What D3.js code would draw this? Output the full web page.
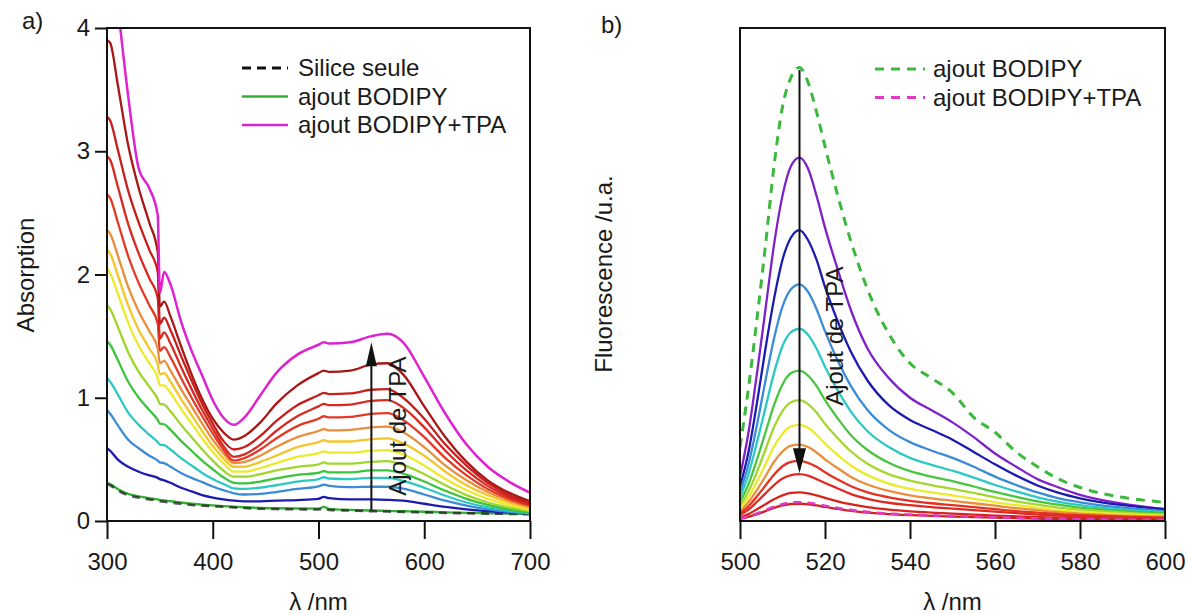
<!DOCTYPE html>
<html><head><meta charset="utf-8">
<script src="https://cdn.jsdelivr.net/npm/d3@7"></script>
<style>
body{margin:0;background:#fff}
svg{display:block}
text{font-family:"Liberation Sans",Arial,sans-serif;fill:#1a1a1a}
</style>
</head><body>
<svg id="chart" width="1187" height="614"></svg>
<script>
// ---------------- Panel a : absorption ----------------
const wlA = [300,303,310,320,330,340,348,350,354,360,370,380,390,400,410,420,430,445,460,480,500,505,510,530,550,565,580,600,620,640,660,680,700];
const siliceA  = [0.30,0.29,0.25,0.21,0.19,0.175,0.165,0.16,0.157,0.15,0.14,0.13,0.125,0.12,0.115,0.11,0.105,0.10,0.097,0.095,0.093,0.10,0.09,0.085,0.08,0.077,0.074,0.07,0.066,0.063,0.06,0.058,0.055];
const bodipyA  = [0.31,0.30,0.26,0.22,0.20,0.185,0.175,0.17,0.167,0.16,0.15,0.14,0.133,0.127,0.121,0.116,0.111,0.106,0.103,0.101,0.10,0.115,0.098,0.09,0.085,0.082,0.079,0.075,0.07,0.066,0.063,0.06,0.057];
const tpaA1  = [0.59,0.57,0.50,0.44,0.40,0.37,0.35,0.34,0.33,0.31,0.27,0.24,0.21,0.19,0.175,0.165,0.16,0.16,0.165,0.17,0.18,0.195,0.185,0.175,0.175,0.172,0.165,0.14,0.115,0.095,0.08,0.07,0.06];
const tpaA2  = [0.90,0.87,0.78,0.66,0.59,0.53,0.49,0.475,0.47,0.44,0.39,0.35,0.315,0.28,0.25,0.225,0.215,0.22,0.235,0.26,0.28,0.295,0.285,0.275,0.278,0.278,0.262,0.215,0.165,0.125,0.095,0.075,0.06];
const tpaA3  = [1.16,1.13,1.03,0.88,0.78,0.70,0.64,0.62,0.615,0.58,0.51,0.45,0.39,0.34,0.30,0.265,0.26,0.27,0.29,0.32,0.34,0.355,0.345,0.34,0.35,0.35,0.325,0.27,0.205,0.15,0.11,0.085,0.065];
const tpaA4  = [1.46,1.43,1.31,1.13,1.00,0.90,0.82,0.79,0.785,0.74,0.65,0.57,0.49,0.42,0.355,0.31,0.305,0.32,0.345,0.375,0.39,0.405,0.395,0.395,0.41,0.41,0.385,0.32,0.245,0.18,0.13,0.095,0.07];
const tpaA5  = [1.75,1.72,1.58,1.37,1.21,1.09,0.99,0.95,0.945,0.89,0.78,0.68,0.58,0.49,0.41,0.36,0.36,0.38,0.41,0.44,0.46,0.475,0.465,0.465,0.48,0.485,0.455,0.38,0.29,0.21,0.15,0.11,0.08];
const tpaA6  = [2.05,2.01,1.85,1.61,1.42,1.28,1.16,1.10,1.10,1.04,0.91,0.79,0.67,0.56,0.47,0.40,0.40,0.43,0.47,0.52,0.55,0.565,0.555,0.555,0.57,0.575,0.54,0.45,0.34,0.25,0.18,0.13,0.09];
const tpaA7  = [2.20,2.17,2.00,1.75,1.55,1.40,1.27,1.19,1.20,1.13,0.99,0.86,0.73,0.61,0.51,0.44,0.44,0.48,0.53,0.60,0.64,0.655,0.645,0.645,0.665,0.67,0.63,0.53,0.40,0.29,0.21,0.15,0.10];
const tpaA8  = [2.36,2.33,2.16,1.90,1.70,1.54,1.40,1.28,1.30,1.22,1.07,0.93,0.79,0.66,0.55,0.47,0.48,0.53,0.60,0.68,0.73,0.745,0.735,0.74,0.76,0.765,0.72,0.60,0.45,0.33,0.235,0.165,0.115];
const tpaA9  = [2.65,2.62,2.43,2.15,1.93,1.75,1.60,1.38,1.41,1.33,1.16,1.00,0.85,0.71,0.58,0.49,0.51,0.58,0.67,0.77,0.83,0.85,0.84,0.845,0.87,0.875,0.82,0.68,0.51,0.37,0.26,0.18,0.125];
const tpaA10 = [2.96,2.93,2.72,2.41,2.17,1.97,1.81,1.48,1.53,1.44,1.25,1.07,0.90,0.75,0.61,0.52,0.54,0.62,0.73,0.85,0.93,0.95,0.94,0.945,0.975,0.98,0.92,0.76,0.57,0.41,0.285,0.195,0.135];
const tpaA11 = [3.28,3.25,3.02,2.68,2.42,2.20,2.02,1.60,1.65,1.55,1.34,1.14,0.95,0.79,0.65,0.58,0.60,0.69,0.81,0.94,1.02,1.04,1.03,1.035,1.065,1.07,1.00,0.83,0.62,0.45,0.31,0.21,0.145];
const tpaA12 = [3.90,3.88,3.55,3.05,2.70,2.42,2.18,1.74,1.78,1.66,1.42,1.19,0.99,0.83,0.72,0.66,0.69,0.80,0.95,1.10,1.20,1.22,1.21,1.22,1.27,1.28,1.19,0.93,0.68,0.48,0.33,0.23,0.16];
const bodipyTpaA = [4.9,4.75,4.2,3.45,2.86,2.70,2.48,1.85,2.02,1.92,1.62,1.38,1.18,0.98,0.84,0.78,0.84,1.02,1.20,1.35,1.43,1.45,1.44,1.45,1.50,1.52,1.45,1.17,0.87,0.62,0.44,0.32,0.23];
const tpaSeriesA = [tpaA1,tpaA2,tpaA3,tpaA4,tpaA5,tpaA6,tpaA7,tpaA8,tpaA9,tpaA10,tpaA11,tpaA12];
const tpaColorsA = ["#1b1bb0","#3b8bd6","#2cc9c4","#3cc43c","#9fd62a","#ecea2a","#f3c62a","#ea8e3a","#e33a28","#d62a22","#c61f1c","#a81616"];
const xTicksA = [300,400,500,600,700];
const yTicksA = [0,1,2,3,4];
const legendA = ["Silice seule","ajout BODIPY","ajout BODIPY+TPA"];

// ---------------- Panel b : fluorescence ----------------
const wlB = [500,502,504,506,508,510,512,514,516,518,520,523,526,530,535,540,545,550,555,560,565,570,575,580,590,600];
const bodipyB    = [15,27,41,56,72,84,90,92,89,83,76,66,57,47,38,32,29,26,21,18,14,11,8.5,6.8,4.8,3.8];
const bodipyTpaB = [0.5,0.95,1.55,2.2,2.9,3.4,3.75,3.8,3.7,3.45,3.1,2.65,2.25,1.85,1.5,1.3,1.15,1.0,0.88,0.75,0.63,0.53,0.45,0.38,0.28,0.22];
const tpaB1  = [9,18,30,43,56,66,72,73.7,71.5,66,59.5,51,43,35,29,25,22.5,20,17,13.7,11,8.5,6.8,5.3,3.5,2.4];
const tpaB2  = [7,14,24,35,45,53,57.5,59,57,53,47.5,40.5,34.5,28.5,23.5,20.5,18.5,16.5,14,11.5,9.2,7.2,5.7,4.6,3.2,2.4];
const tpaB3  = [5.8,11.5,19.5,28.5,37,43.5,47,48,46.5,43,38.5,32.5,27.5,22.5,18.5,16,14.3,12.8,11,9,7.3,5.8,4.6,3.8,2.7,2.0];
const tpaB4  = [4.8,9.5,16,23,30,35.5,38.3,39,37.8,35,31.3,26.5,22.3,18.2,15,12.8,11.4,10.2,8.8,7.3,6,4.8,3.9,3.2,2.3,1.8];
const tpaB5  = [3.8,7.5,12.5,18,23.5,27.7,30,30.5,29.5,27.4,24.5,20.8,17.5,14.4,11.8,10.1,9,8.1,7,5.9,4.9,4.0,3.3,2.7,2.0,1.6];
const tpaB6  = [3.0,6.0,10,14.5,19,22.3,24.1,24.5,23.7,22,19.7,16.8,14.2,11.6,9.5,8.2,7.3,6.5,5.7,4.8,4.0,3.3,2.7,2.3,1.7,1.3];
const tpaB7  = [2.4,4.8,8,11.5,15.1,17.7,19.2,19.5,18.9,17.5,15.7,13.4,11.3,9.3,7.6,6.5,5.8,5.2,4.5,3.8,3.2,2.7,2.2,1.9,1.4,1.1];
const tpaB8  = [1.9,3.8,6.3,9.1,12,14.1,15.3,15.5,15,13.9,12.5,10.7,9,7.4,6.1,5.2,4.6,4.1,3.6,3.1,2.6,2.2,1.8,1.5,1.1,0.9];
const tpaB9  = [1.5,3,5,7.2,9.4,11.1,12,12.2,11.8,11,9.9,8.4,7.1,5.8,4.8,4.1,3.6,3.2,2.8,2.4,2.0,1.7,1.4,1.2,0.9,0.7];
const tpaB10 = [1.2,2.3,3.9,5.6,7.3,8.6,9.3,9.5,9.2,8.5,7.7,6.6,5.5,4.5,3.7,3.2,2.8,2.5,2.2,1.9,1.6,1.3,1.1,0.95,0.7,0.55];
const tpaB11 = [0.7,1.4,2.4,3.4,4.4,5.2,5.7,5.8,5.6,5.2,4.7,4.0,3.4,2.8,2.3,1.95,1.7,1.5,1.3,1.1,0.95,0.8,0.68,0.58,0.42,0.33];
const tpaB12 = [0.45,0.85,1.4,2.0,2.65,3.15,3.45,3.5,3.4,3.15,2.85,2.45,2.05,1.7,1.4,1.2,1.05,0.9,0.8,0.68,0.58,0.48,0.4,0.35,0.25,0.2];
const tpaSeriesB = [tpaB1,tpaB2,tpaB3,tpaB4,tpaB5,tpaB6,tpaB7,tpaB8,tpaB9,tpaB10,tpaB11,tpaB12];
const tpaColorsB = ["#7d22c8","#1b1bb0","#3b8bd6","#2cc9c4","#48c640","#a5d62c","#ecea2a","#ea8e3a","#e3321f","#df2a22","#d8231d","#d22020"];
const xTicksB = [500,520,540,560,580,600];
const legendB = ["ajout BODIPY","ajout BODIPY+TPA"];

// ---------------- drawing ----------------
const svg = d3.select("#chart");
const FS = 24;
const frameA = {l:107, r:530, t:28, b:521};
const frameB = {l:740, r:1165, t:28, b:521};

const xA = d3.scaleLinear().domain([300,700]).range([frameA.l, frameA.r]);
const yA = d3.scaleLinear().domain([0,4]).range([frameA.b, frameA.t]);
const xB = d3.scaleLinear().domain([500,600]).range([frameB.l, frameB.r]);
const yB = d3.scaleLinear().domain([0,100]).range([frameB.b, frameB.t]);

const defs = svg.append("defs");
defs.append("clipPath").attr("id","clipA").append("rect")
  .attr("x",frameA.l).attr("y",frameA.t).attr("width",frameA.r-frameA.l).attr("height",frameA.b-frameA.t);
defs.append("clipPath").attr("id","clipB").append("rect")
  .attr("x",frameB.l).attr("y",frameB.t).attr("width",frameB.r-frameB.l).attr("height",frameB.b-frameB.t);

function lineGen(x,y,wl){
  return d3.line().x((d,i)=>x(wl[i])).y(d=>y(d)).curve(d3.curveMonotoneX);
}
const lineA = lineGen(xA,yA,wlA);
const lineB = lineGen(xB,yB,wlB);

// panel a curves
const gA = svg.append("g").attr("clip-path","url(#clipA)");
gA.append("path").attr("d",lineA(bodipyA)).attr("fill","none").attr("stroke","#33b033").attr("stroke-width",2.4);
gA.append("path").attr("d",lineA(siliceA)).attr("fill","none").attr("stroke","#222").attr("stroke-width",2.6).attr("stroke-dasharray","8,6").attr("opacity",0.75);
tpaSeriesA.forEach((s,i)=>{
  gA.append("path").attr("d",lineA(s)).attr("fill","none").attr("stroke",tpaColorsA[i]).attr("stroke-width",2.3);
});
gA.append("path").attr("d",lineA(bodipyTpaA)).attr("fill","none").attr("stroke","#df22cf").attr("stroke-width",2.5);

// panel b curves
const gB = svg.append("g").attr("clip-path","url(#clipB)");
tpaSeriesB.forEach((s,i)=>{
  gB.append("path").attr("d",lineB(s)).attr("fill","none").attr("stroke",tpaColorsB[i]).attr("stroke-width",2.3);
});
gB.append("path").attr("d",lineB(bodipyTpaB)).attr("fill","none").attr("stroke","#e03ac4").attr("stroke-width",2.6).attr("stroke-dasharray","8,6");
gB.append("path").attr("d",lineB(bodipyB)).attr("fill","none").attr("stroke","#3cb83c").attr("stroke-width",3).attr("stroke-dasharray","9,7");

// frames
[frameA,frameB].forEach(f=>{
  svg.append("rect").attr("x",f.l).attr("y",f.t).attr("width",f.r-f.l).attr("height",f.b-f.t)
    .attr("fill","none").attr("stroke","#111").attr("stroke-width",2);
});

// axes
function styleAxis(g){
  g.select(".domain").remove();
  g.selectAll(".tick line").attr("stroke","#111").attr("stroke-width",2);
  g.selectAll(".tick text").attr("font-size",FS).attr("fill","#1a1a1a")
    .attr("font-family","Liberation Sans, Arial, sans-serif");
}
svg.append("g").attr("transform",`translate(0,${frameA.b})`)
  .call(d3.axisBottom(xA).tickValues(xTicksA).tickSize(18).tickPadding(14).tickFormat(d3.format("d")))
  .call(styleAxis);
svg.append("g").attr("transform",`translate(${frameA.l},0)`)
  .call(d3.axisLeft(yA).tickValues(yTicksA).tickSize(12).tickPadding(5).tickFormat(d3.format("d")))
  .call(styleAxis);
svg.append("g").attr("transform",`translate(0,${frameB.b})`)
  .call(d3.axisBottom(xB).tickValues(xTicksB).tickSize(18).tickPadding(14).tickFormat(d3.format("d")))
  .call(styleAxis);

// axis titles
svg.append("text").attr("x",(frameA.l+frameA.r)/2).attr("y",610).attr("text-anchor","middle").attr("font-size",FS).text("λ /nm");
svg.append("text").attr("x",(frameB.l+frameB.r)/2).attr("y",610).attr("text-anchor","middle").attr("font-size",FS).text("λ /nm");
svg.append("text").attr("transform","translate(26,275) rotate(-90)").attr("text-anchor","middle").attr("dy","0.35em").attr("font-size",FS).text("Absorption");
svg.append("text").attr("transform","translate(604,274) rotate(-90)").attr("text-anchor","middle").attr("dy","0.35em").attr("font-size",FS).text("Fluorescence /u.a.");
svg.append("text").attr("x",22).attr("y",29).attr("font-size",FS).text("a)");
svg.append("text").attr("x",601).attr("y",33).attr("font-size",FS).text("b)");

// legend a
const legA = [{stroke:"#111",dash:"9,6",w:3.2},{stroke:"#33b033",dash:null,w:2.6},{stroke:"#df22cf",dash:null,w:2.6}];
legendA.forEach((t,i)=>{
  const y = 68 + i*28.5;
  const l = svg.append("line").attr("x1",242).attr("x2",288).attr("y1",y).attr("y2",y)
    .attr("stroke",legA[i].stroke).attr("stroke-width",legA[i].w);
  if(legA[i].dash) l.attr("stroke-dasharray",legA[i].dash);
  svg.append("text").attr("x",298).attr("y",y).attr("dy","0.35em").attr("font-size",FS).text(t);
});
// legend b
const legB = [{stroke:"#3cb83c"},{stroke:"#e03ac4"}];
legendB.forEach((t,i)=>{
  const y = 69 + i*28.5;
  svg.append("line").attr("x1",875).attr("x2",925).attr("y1",y).attr("y2",y)
    .attr("stroke",legB[i].stroke).attr("stroke-width",3).attr("stroke-dasharray","9,7");
  svg.append("text").attr("x",933).attr("y",y).attr("dy","0.35em").attr("font-size",FS).text(t);
});

// arrows
function arrow(x, y1, y2, headLen, headW){
  const dir = y2 < y1 ? -1 : 1;
  svg.append("line").attr("x1",x).attr("x2",x).attr("y1",y1).attr("y2",y2 - dir*headLen*0.6)
    .attr("stroke","#111").attr("stroke-width",2);
  svg.append("path").attr("d",`M${x},${y2} L${x-headW/2},${y2-dir*headLen} L${x+headW/2},${y2-dir*headLen} Z`).attr("fill","#111");
}
arrow(xA(550), yA(0.09), yA(1.45), 24, 11);
arrow(xB(514), yB(91.5), yB(9.7), 25, 13);
svg.append("text").attr("transform",`translate(${xA(550)+26},${yA(0.77)}) rotate(-90)`).attr("text-anchor","middle").attr("dy","0.35em").attr("font-size",FS).text("Ajout de TPA");
svg.append("text").attr("transform",`translate(${xB(514)+35},${yB(37.5)}) rotate(-90)`).attr("text-anchor","middle").attr("dy","0.35em").attr("font-size",FS).text("Ajout de TPA");
</script>
</body></html>
